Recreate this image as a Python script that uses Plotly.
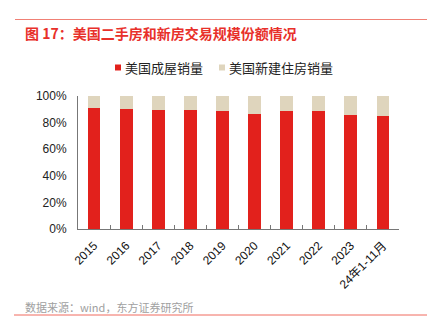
import plotly.graph_objects as go

categories = ["2015", "2016", "2017", "2018", "2019", "2020", "2021", "2022", "2023", "24年1-11月"]
existing_share = [91.0, 90.5, 89.7, 89.2, 88.4, 86.7, 88.7, 88.7, 85.9, 85.2]
new_share = [round(100 - v, 1) for v in existing_share]
y_ticks = [0, 20, 40, 60, 80, 100]
y_tick_labels = ["0%", "20%", "40%", "60%", "80%", "100%"]
series_names = ["美国成屋销量", "美国新建住房销量"]
series_colors = ["#E2211C", "#DFD5BD"]

W, H = 430, 333
L, R, T, B = 78, 31, 96, 104
pw = W - L - R
ph = H - T - B

def px_x(x):
    return (x - L) / pw

def px_y(y):
    return (H - B - y) / ph

cjk = "Noto Sans CJK SC, sans-serif"
latin = "Liberation Sans, Arial, Noto Sans CJK SC, sans-serif"

fig = go.Figure()
fig.add_trace(go.Bar(x=categories, y=existing_share, name=series_names[0], showlegend=False,
                     marker=dict(color=series_colors[0], line=dict(width=0)), width=0.4))
fig.add_trace(go.Bar(x=categories, y=new_share, name=series_names[1], showlegend=False,
                     marker=dict(color=series_colors[1], line=dict(width=0)), width=0.4))

legend_x = [115, 219]
annotations = [
    dict(text="<b>图 17：美国二手房和新房交易规模份额情况</b>", xref="paper", yref="paper",
         x=px_x(23), y=px_y(33), xanchor="left", yanchor="middle", showarrow=False,
         font=dict(size=14, color="#E8302A", family=cjk)),
    dict(text="数据来源：wind，东方证券研究所", xref="paper", yref="paper",
         x=px_x(23), y=px_y(307), xanchor="left", yanchor="middle", showarrow=False,
         font=dict(size=11, color="#A0A0A0", family=cjk)),
]
shapes = [
    dict(type="line", xref="paper", yref="paper", x0=px_x(15), x1=px_x(427),
         y0=px_y(19.5), y1=px_y(19.5), line=dict(color="#F08075", width=1)),
    dict(type="line", xref="paper", yref="paper", x0=px_x(14), x1=px_x(427),
         y0=px_y(315), y1=px_y(315), line=dict(color="#F06A5E", width=1)),
]
for name, color, lx in zip(series_names, series_colors, legend_x):
    shapes.append(dict(type="rect", xref="paper", yref="paper", x0=px_x(lx), x1=px_x(lx + 6),
                       y0=px_y(64.5), y1=px_y(70.5), fillcolor=color, line=dict(width=0)))
    annotations.append(dict(text=name, xref="paper", yref="paper", x=px_x(lx + 8), y=px_y(67.5),
                            xanchor="left", yanchor="middle", showarrow=False,
                            font=dict(size=13, color="#222", family=cjk)))

fig.update_layout(
    width=W, height=H, barmode="stack",
    margin=dict(l=L, r=R, t=T, b=B),
    plot_bgcolor="white", paper_bgcolor="white",
    font=dict(family=latin, size=12, color="#222"),
    xaxis=dict(type="category", showline=True, linecolor="#777", linewidth=1,
               ticks="inside", tickson="boundaries", ticklen=4, tickcolor="#777",
               tickangle=-45, tickfont=dict(size=12, color="#111", family=latin), showgrid=False,
               range=[-0.5, 9.5], ticklabelstandoff=4),
    yaxis=dict(range=[0, 100], tickvals=y_ticks, ticktext=y_tick_labels, showline=True,
               linecolor="#777", linewidth=1, ticks="", showgrid=False, zeroline=False,
               tickfont=dict(size=12, color="#222", family=latin), ticklabelstandoff=8),
    annotations=annotations,
    shapes=shapes,
)

fig.write_html("out.html")
